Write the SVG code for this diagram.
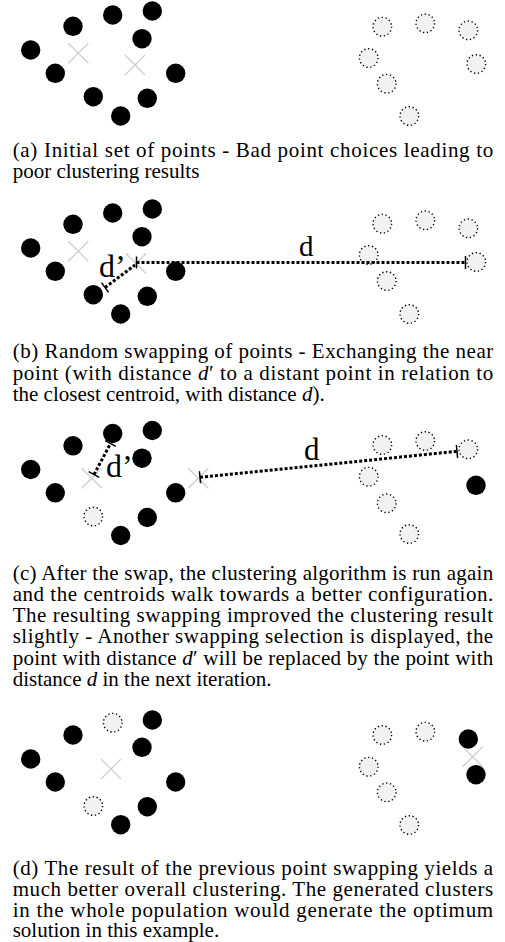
<svg xmlns="http://www.w3.org/2000/svg" width="505" height="942" viewBox="0 0 505 942">
<style>
.pt{fill:#000}
.ep{fill:#f2f2f2;stroke:#000;stroke-width:1.4;stroke-dasharray:1.3 2.6}
.cx{stroke:#cfcfcf;stroke-width:1.3;fill:none}
.dist{stroke:#000;stroke-width:3;stroke-dasharray:3 2;fill:none}
.tick{stroke:#000;stroke-width:1.5}
.cap{font-family:"Liberation Serif","Times New Roman",serif;font-size:21px;fill:#000}
.lbl{font-family:"Liberation Serif","Times New Roman",serif;fill:#000}
.it{font-style:italic}
</style>
<defs>
<circle id="b" r="9.7" class="pt"/>
<circle id="e" r="9.3" class="ep"/>
<path id="x" d="M-10,-10L10,10M-10,10L10,-10" class="cx"/>
</defs>
<rect width="505" height="942" fill="#fff"/>

<g id="panel-a">
<g id="a-cluster1">
<use href="#b" x="30.7" y="50"/><use href="#b" x="73" y="26.3"/><use href="#b" x="112.7" y="15"/><use href="#b" x="152.3" y="11"/><use href="#b" x="142" y="38.7"/><use href="#b" x="55.3" y="73.3"/><use href="#b" x="175.7" y="73.3"/><use href="#b" x="93.3" y="96.7"/><use href="#b" x="147.3" y="98.3"/><use href="#b" x="120.7" y="116"/>
</g>
<g id="a-centroids"><use href="#x" x="78.3" y="53.3"/><use href="#x" x="135" y="65"/></g>
<g id="a-cluster2">
<use href="#e" x="382.3" y="26.7"/><use href="#e" x="425.3" y="23.3"/><use href="#e" x="468.3" y="30.3"/><use href="#e" x="368.7" y="58"/><use href="#e" x="476.3" y="64"/><use href="#e" x="386.7" y="83.7"/><use href="#e" x="409.3" y="116"/>
</g>
</g>

<g id="panel-b" transform="translate(0,198)">
<g id="b-cluster1">
<use href="#b" x="30.7" y="50"/><use href="#b" x="73" y="26.3"/><use href="#b" x="112.7" y="15"/><use href="#b" x="152.3" y="11"/><use href="#b" x="142" y="38.7"/><use href="#b" x="55.3" y="73.3"/><use href="#b" x="175.7" y="73.3"/><use href="#b" x="93.3" y="96.7"/><use href="#b" x="147.3" y="98.3"/><use href="#b" x="120.7" y="116"/>
</g>
<g id="b-centroids"><use href="#x" x="78.3" y="53.3"/><use href="#x" x="136" y="65.5"/></g>
<g id="b-cluster2">
<use href="#e" x="382.3" y="25.7"/><use href="#e" x="425.3" y="22.3"/><use href="#e" x="468.3" y="30.3"/><use href="#e" x="368.7" y="57"/><use href="#e" x="476.3" y="64"/><use href="#e" x="386.7" y="83"/><use href="#e" x="409.3" y="116"/>
</g>
</g>

<g id="panel-c" transform="translate(0,419.5)">
<g id="c-cluster1">
<use href="#b" x="30.7" y="50"/><use href="#b" x="73" y="26.3"/><use href="#b" x="112.7" y="14"/><use href="#b" x="152.3" y="11"/><use href="#b" x="142" y="38.7"/><use href="#b" x="55.3" y="73.3"/><use href="#b" x="175.7" y="73.3"/><use href="#e" x="93.3" y="97"/><use href="#b" x="147.3" y="98"/><use href="#b" x="120.7" y="116"/>
</g>
<g id="c-centroids"><use href="#x" x="91.7" y="58.8"/><use href="#x" x="198.3" y="58.8"/></g>
<g id="c-cluster2">
<use href="#e" x="382.3" y="25.5"/><use href="#e" x="425.3" y="21.5"/><use href="#e" x="468.3" y="29.8"/><use href="#e" x="368.7" y="57.2"/><use href="#b" x="476" y="65.8"/><use href="#e" x="386.7" y="83.8"/><use href="#e" x="409.3" y="114.5"/>
</g>
</g>

<g id="panel-d" transform="translate(0,708.5)">
<g id="d-cluster1">
<use href="#b" x="30.7" y="50.5"/><use href="#b" x="73" y="26.5"/><use href="#e" x="112.7" y="14.2"/><use href="#b" x="152.3" y="11.5"/><use href="#b" x="142" y="38.8"/><use href="#b" x="55.3" y="73.5"/><use href="#b" x="175.7" y="73.5"/><use href="#e" x="93.3" y="97.5"/><use href="#b" x="147.3" y="98.2"/><use href="#b" x="120.7" y="116.2"/>
</g>
<g id="d-centroids"><use href="#x" x="111" y="60.5"/><use href="#x" x="472.7" y="48.2"/></g>
<g id="d-cluster2">
<use href="#e" x="382.3" y="26.5"/><use href="#e" x="425.3" y="23.2"/><use href="#b" x="468.3" y="30.5"/><use href="#e" x="368.7" y="58.2"/><use href="#b" x="476" y="66.2"/><use href="#e" x="386.7" y="83.8"/><use href="#e" x="409.3" y="116.5"/>
</g>
</g>

<g id="connectors">
<line class="dist" x1="136.5" y1="262.5" x2="465.5" y2="262.5"/>
<line class="tick" x1="136.5" y1="256.5" x2="136.5" y2="268.5"/>
<line class="tick" x1="465.5" y1="256" x2="465.5" y2="269"/>
<line class="dist" x1="105" y1="287.5" x2="135" y2="265"/>
<line class="tick" x1="101.5" y1="282.6" x2="108.5" y2="292.4"/>
<line class="dist" x1="200" y1="477.3" x2="457" y2="451.3"/>
<line class="tick" x1="199.4" y1="471.3" x2="200.6" y2="483.3"/>
<line class="tick" x1="456.4" y1="445" x2="457.6" y2="458"/>
<line class="dist" x1="94" y1="474.5" x2="110.5" y2="443.5"/>
<line class="tick" x1="88.7" y1="471.7" x2="99.3" y2="477.3"/>
<line class="tick" x1="105.2" y1="440.7" x2="115.8" y2="446.3"/>
</g>

<g id="labels">
<text class="lbl" x="299" y="256" font-size="29">d</text>
<text class="lbl" x="99" y="277" font-size="32">d’</text>
<text class="lbl" x="304" y="459.5" font-size="31">d</text>
<text class="lbl" x="106" y="477" font-size="32">d’</text>
</g>

<g id="captions" class="cap">
<text x="12.7" y="157" textLength="480.5" lengthAdjust="spacing">(a) Initial set of points - Bad point choices leading to</text>
<text x="12.7" y="178">poor clustering results</text>

<text x="12.7" y="358" textLength="480.5" lengthAdjust="spacing">(b) Random swapping of points - Exchanging the near</text>
<text x="12.7" y="379.5" textLength="480.5" lengthAdjust="spacing">point (with distance <tspan class="it">d</tspan>′ to a distant point in relation to</text>
<text x="12.7" y="401">the closest centroid, with distance <tspan class="it">d</tspan>).</text>

<text x="12.7" y="579.5" textLength="480.5" lengthAdjust="spacing">(c) After the swap, the clustering algorithm is run again</text>
<text x="12.7" y="600.8" textLength="480.5" lengthAdjust="spacing">and the centroids walk towards a better configuration.</text>
<text x="12.7" y="622.1" textLength="480.5" lengthAdjust="spacing">The resulting swapping improved the clustering result</text>
<text x="12.7" y="643.4" textLength="480.5" lengthAdjust="spacing">slightly - Another swapping selection is displayed, the</text>
<text x="12.7" y="664.7" textLength="480.5" lengthAdjust="spacing">point with distance <tspan class="it">d</tspan>′ will be replaced by the point with</text>
<text x="12.7" y="686">distance <tspan class="it">d</tspan> in the next iteration.</text>

<text x="12.7" y="874.5" textLength="480.5" lengthAdjust="spacing">(d) The result of the previous point swapping yields a</text>
<text x="12.7" y="895.5" textLength="480.5" lengthAdjust="spacing">much better overall clustering. The generated clusters</text>
<text x="12.7" y="916.5" textLength="480.5" lengthAdjust="spacing">in the whole population would generate the optimum</text>
<text x="12.7" y="937">solution in this example.</text>
</g>
</svg>
